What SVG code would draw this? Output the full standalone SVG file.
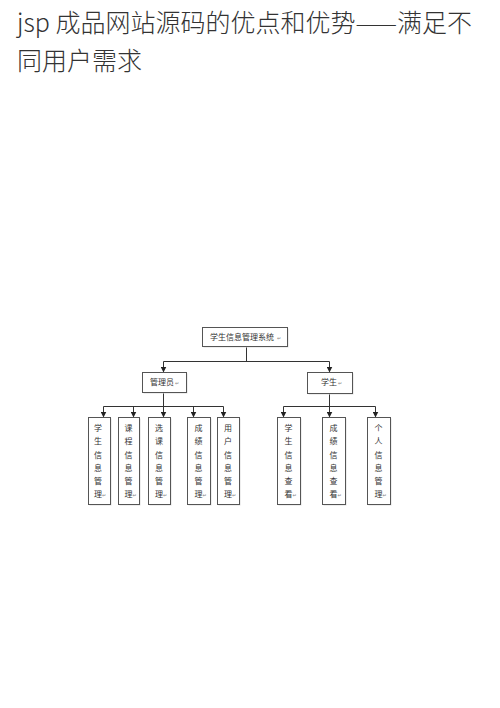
<svg xmlns="http://www.w3.org/2000/svg" width="500" height="708" viewBox="0 0 500 708">
<style>
.title{font-family:"Noto Sans CJK SC","Noto Sans",sans-serif;font-size:25px;font-weight:300;fill:#333}
.box{fill:#fff;stroke:#555;stroke-width:1}
.sh{fill:#ddd}
.t{font-family:"Noto Sans CJK SC","Noto Sans",sans-serif;font-size:8px;fill:#333;text-anchor:middle}
.rt{font-family:"DejaVu Sans",sans-serif;font-size:5px;fill:#888}
.ln{fill:none;stroke:#333;stroke-width:1}
</style>
<defs>
<marker id="arr" markerWidth="6" markerHeight="6" refX="5" refY="3" orient="auto" markerUnits="userSpaceOnUse">
<path d="M0,0 L6,3 L0,6 Z" fill="#222"/>
</marker>
</defs>
<rect width="500" height="708" fill="#fff"/>
<g id="title">
<text class="title" x="17" y="32">jsp 成品网站源码的优点和优势——满足不</text>
<text class="title" x="17" y="70">同用户需求</text>
</g>
<g id="connectors">
<path class="ln" d="M246.5,346.5 V361.5 M163.5,361.5 H329.5"/>
<path class="ln" d="M163.5,361.5 V371.5" marker-end="url(#arr)"/>
<path class="ln" d="M329.5,361.5 V371.5" marker-end="url(#arr)"/>
<path class="ln" d="M163.5,392.5 V406.5 M103.5,406.5 H223.5"/>
<path class="ln" d="M103.5,406.5 V416.5" marker-end="url(#arr)"/>
<path class="ln" d="M133.5,406.5 V416.5" marker-end="url(#arr)"/>
<path class="ln" d="M163.5,406.5 V416.5" marker-end="url(#arr)"/>
<path class="ln" d="M193.5,406.5 V416.5" marker-end="url(#arr)"/>
<path class="ln" d="M223.5,406.5 V416.5" marker-end="url(#arr)"/>
<path class="ln" d="M329.5,393.5 V406.5 M283.5,406.5 H375.5"/>
<path class="ln" d="M283.5,406.5 V416.5" marker-end="url(#arr)"/>
<path class="ln" d="M329.5,406.5 V416.5" marker-end="url(#arr)"/>
<path class="ln" d="M375.5,406.5 V416.5" marker-end="url(#arr)"/>
</g>
<g id="root">
<rect class="sh" x="203.5" y="328.5" width="85" height="19"/>
<rect class="box" x="202.5" y="327.5" width="85" height="19"/>
<text class="t" x="242" y="340">学生信息管理系统</text><text class="rt" x="277" y="340">↵</text>
</g>
<g id="admin">
<rect class="sh" x="143.5" y="373.5" width="44" height="20"/>
<rect class="box" x="142.5" y="372.5" width="44" height="20"/>
<text class="t" x="162" y="385">管理员</text><text class="rt" x="175" y="385">↵</text>
</g>
<g id="student">
<rect class="sh" x="308.5" y="373.5" width="45" height="21"/>
<rect class="box" x="307.5" y="372.5" width="45" height="21"/>
<text class="t" x="329" y="385">学生</text><text class="rt" x="338" y="385">↵</text>
</g>
<g id="n1">
<rect class="sh" x="89.5" y="418.5" width="22" height="87"/>
<rect class="box" x="88.5" y="417.5" width="22" height="87"/>
<text class="t" x="98" y="431">学</text><text class="t" x="98" y="444">生</text><text class="t" x="98" y="457.5">信</text><text class="t" x="98" y="470.5">息</text><text class="t" x="98" y="484">管</text><text class="t" x="98" y="497">理</text><text class="rt" x="102" y="497">↵</text>
</g>
<g id="n2">
<rect class="sh" x="119.5" y="418.5" width="21" height="87"/>
<rect class="box" x="118.5" y="417.5" width="21" height="87"/>
<text class="t" x="128.5" y="431">课</text><text class="t" x="128.5" y="444">程</text><text class="t" x="128.5" y="457.5">信</text><text class="t" x="128.5" y="470.5">息</text><text class="t" x="128.5" y="484">管</text><text class="t" x="128.5" y="497">理</text><text class="rt" x="132.5" y="497">↵</text>
</g>
<g id="n3">
<rect class="sh" x="149.5" y="418.5" width="22" height="87"/>
<rect class="box" x="148.5" y="417.5" width="22" height="87"/>
<text class="t" x="159" y="431">选</text><text class="t" x="159" y="444">课</text><text class="t" x="159" y="457.5">信</text><text class="t" x="159" y="470.5">息</text><text class="t" x="159" y="484">管</text><text class="t" x="159" y="497">理</text><text class="rt" x="163" y="497">↵</text>
</g>
<g id="n4">
<rect class="sh" x="188.5" y="418.5" width="23" height="87"/>
<rect class="box" x="187.5" y="417.5" width="23" height="87"/>
<text class="t" x="198.5" y="431">成</text><text class="t" x="198.5" y="444">绩</text><text class="t" x="198.5" y="457.5">信</text><text class="t" x="198.5" y="470.5">息</text><text class="t" x="198.5" y="484">管</text><text class="t" x="198.5" y="497">理</text><text class="rt" x="202.5" y="497">↵</text>
</g>
<g id="n5">
<rect class="sh" x="218.5" y="418.5" width="22" height="87"/>
<rect class="box" x="217.5" y="417.5" width="22" height="87"/>
<text class="t" x="228" y="431">用</text><text class="t" x="228" y="444">户</text><text class="t" x="228" y="457.5">信</text><text class="t" x="228" y="470.5">息</text><text class="t" x="228" y="484">管</text><text class="t" x="228" y="497">理</text><text class="rt" x="232" y="497">↵</text>
</g>
<g id="n6">
<rect class="sh" x="278.5" y="418.5" width="23" height="87"/>
<rect class="box" x="277.5" y="417.5" width="23" height="87"/>
<text class="t" x="288.5" y="431">学</text><text class="t" x="288.5" y="444">生</text><text class="t" x="288.5" y="457.5">信</text><text class="t" x="288.5" y="470.5">息</text><text class="t" x="288.5" y="484">查</text><text class="t" x="288.5" y="497">看</text><text class="rt" x="292.5" y="497">↵</text>
</g>
<g id="n7">
<rect class="sh" x="323.5" y="418.5" width="23" height="87"/>
<rect class="box" x="322.5" y="417.5" width="23" height="87"/>
<text class="t" x="333.5" y="431">成</text><text class="t" x="333.5" y="444">绩</text><text class="t" x="333.5" y="457.5">信</text><text class="t" x="333.5" y="470.5">息</text><text class="t" x="333.5" y="484">查</text><text class="t" x="333.5" y="497">看</text><text class="rt" x="337.5" y="497">↵</text>
</g>
<g id="n8">
<rect class="sh" x="368.5" y="418.5" width="23" height="87"/>
<rect class="box" x="367.5" y="417.5" width="23" height="87"/>
<text class="t" x="378.5" y="431">个</text><text class="t" x="378.5" y="444">人</text><text class="t" x="378.5" y="457.5">信</text><text class="t" x="378.5" y="470.5">息</text><text class="t" x="378.5" y="484">管</text><text class="t" x="378.5" y="497">理</text><text class="rt" x="382.5" y="497">↵</text>
</g>
</svg>
